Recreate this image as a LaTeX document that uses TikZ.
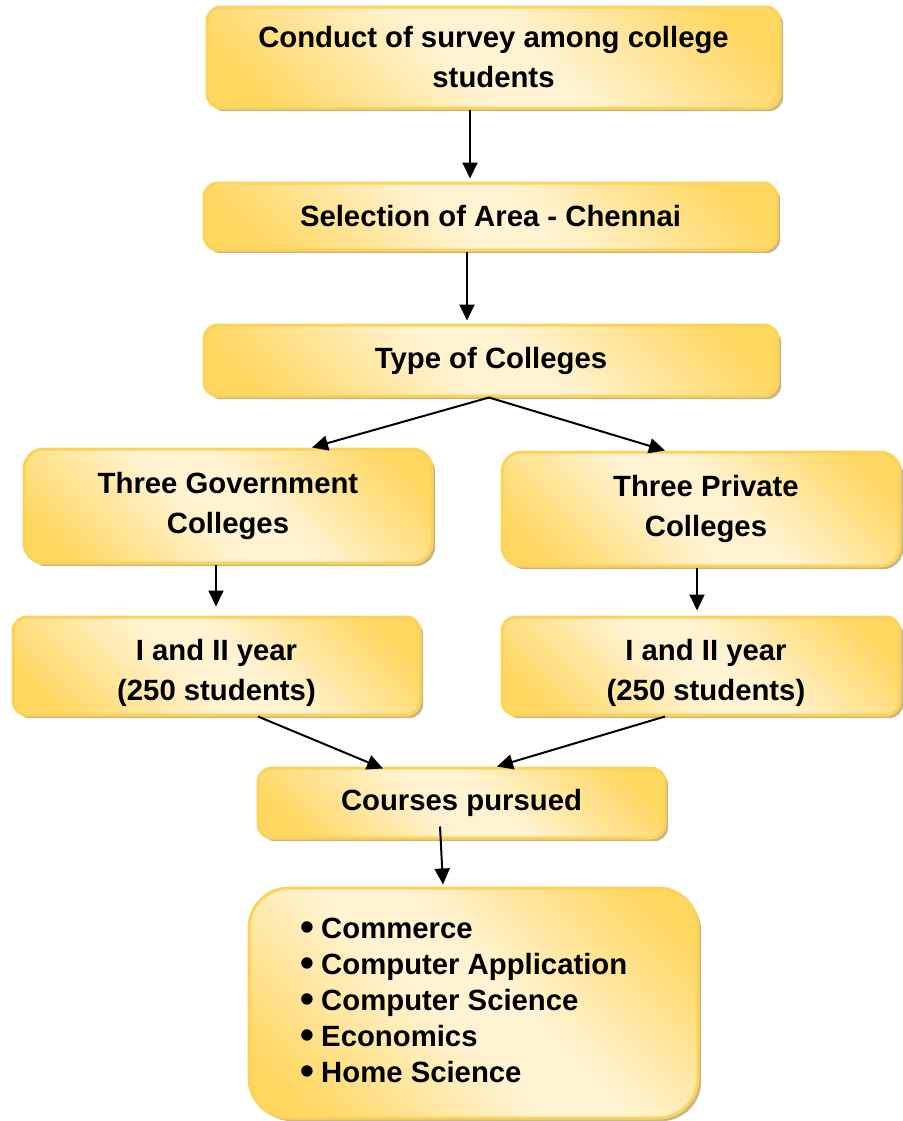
\documentclass[tikz,border=0pt]{standalone}
\usepackage{fontspec}
\setmainfont{Liberation Sans}
\usetikzlibrary{arrows.meta,calc,shadows}

\definecolor{gold}{HTML}{FFD65E}
\definecolor{cream}{HTML}{FFF3D2}
\definecolor{edgegold}{HTML}{FBD35A}
\definecolor{shade}{HTML}{C6B789}

% gold corners, cream band along the diagonal
\pgfdeclareverticalshading{goldband}{100bp}{
  color(0bp)=(gold); color(21bp)=(gold); color(45bp)=(cream);
  color(55bp)=(cream); color(79bp)=(gold); color(100bp)=(gold)}

\tikzset{
  box/.style={draw=edgegold, line width=1.5pt, rounded corners=#1,
    shading=goldband, shading angle=-45,
    drop shadow={shadow xshift=1.6pt, shadow yshift=-1.6pt, fill=shade, opacity=1},
    align=center, inner sep=0pt,
    font=\fontsize{14.65}{20}\selectfont\bfseries},
  box/.default=7pt,
  arr/.style={-{Triangle[length=8pt,width=7.5pt]}, line width=1pt, black},
  listtext/.style={align=left, inner sep=0pt,
    font=\fontsize{14.65}{18}\selectfont\bfseries}
}
\newcommand\dotitem{\raisebox{-0.06em}{\scalebox{1.35}{•}}\hspace{3.5pt}}
% two centred lines, set a little below the middle of their box
\newcommand\twolines[2]{\raisebox{-3pt}[\height][\depth]{\begin{tabular}{@{}c@{}}#1\\#2\end{tabular}}}

\begin{document}
\begin{tikzpicture}[x=0.5pt,y=-0.5pt]
\useasboundingbox (0,0) rectangle (902,1121);

% boxes of the flow, top to bottom
\node[box, minimum width=286.5pt, minimum height=50.5pt] (b1) at (493.5,57.5)
  {Conduct of survey among college\\students};
\node[box, minimum width=286.5pt, minimum height=33.5pt] (b2) at (490.5,216.5)
  {Selection of Area - Chennai};
\node[box, minimum width=287pt, minimum height=35.5pt] (b3) at (491,360.5)
  {Type of Colleges};
\node[box=10pt, minimum width=204pt, minimum height=57pt] (b4) at (228,506)
  {Three Government\\Colleges};
\node[box=10pt, minimum width=199pt, minimum height=57pt] (b5) at (701,509)
  {\hspace*{5pt}Three Private\\\hspace*{5pt}Colleges};
\node[box, minimum width=203.5pt, minimum height=49pt] (b6) at (216.5,666)
  {\twolines{I and II year}{(250 students)}};
\node[box, minimum width=199pt, minimum height=49pt] (b7) at (701,666)
  {\hspace*{5pt}\twolines{I and II year}{(250 students)}};
\node[box, minimum width=203.5pt, minimum height=35pt] (b8) at (461.5,803)
  {Courses pursued};
\node[box=20pt, minimum width=224.5pt, minimum height=115pt] (b9) at (473.5,1003) {};

% course list inside the last box
\node[listtext, anchor=west] (list) at (300,1001)
  {\dotitem Commerce\\
   \dotitem Computer Application\\
   \dotitem Computer Science\\
   \dotitem Economics\\
   \dotitem Home Science};

% connectors
\draw[arr] (b1.south -| 470,0) -- ($(b2.north -| 470,0)+(0,-3)$);
\draw[arr] (b2.south -| 467,0) -- ($(b3.north -| 467,0)+(0,-3)$);
\draw[arr] (b3.south -| 489,0) -- (b4.north -| 312,0);
\draw[arr] (b3.south -| 489,0) -- (b5.north -| 665,0);
\draw[arr] (b4.south -| 216,0) -- ($(b6.north -| 216,0)+(0,-9)$);
\draw[arr] (b5.south -| 697,0) -- ($(b7.north -| 697,0)+(0,-5)$);
\draw[arr] (b6.south -| 258,0) -- ($(b8.north -| 383,0)+(0,2)$);
\draw[arr] (b7.south -| 665,0) -- (b8.north -| 497,0);
\draw[arr] ($(b8.south -| 440,0)+(0,-13)$) -- ($(b9.north -| 443,0)+(0,-2)$);
\end{tikzpicture}
\end{document}
